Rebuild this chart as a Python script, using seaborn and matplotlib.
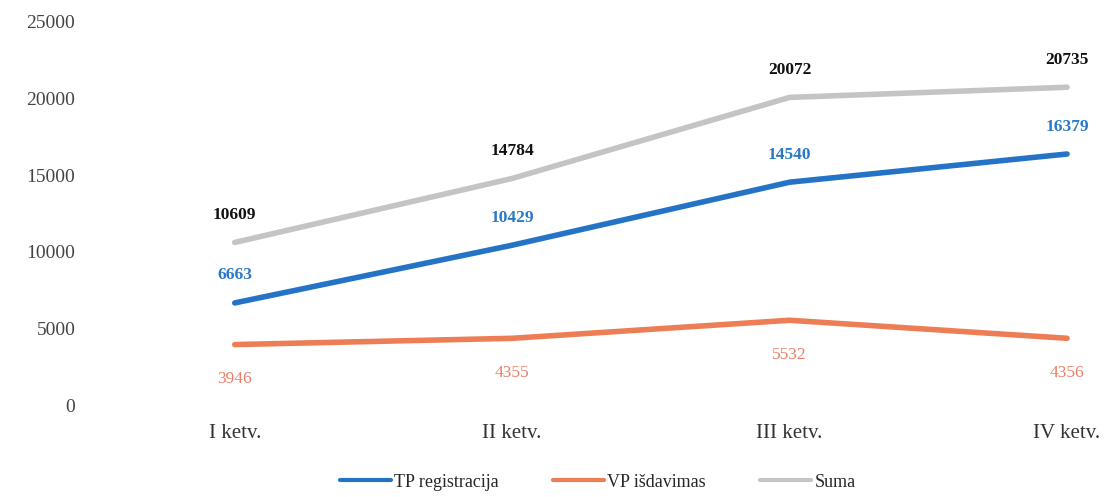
import pandas as pd
import matplotlib.pyplot as plt
import seaborn as sns

# Duomenys
ketvirciai = ["I ketv.", "II ketv.", "III ketv.", "IV ketv."]
tp_registracija = [6663, 10429, 14540, 16379]
vp_isdavimas = [3946, 4355, 5532, 4356]
suma = [10609, 14784, 20072, 20735]

serijos = ["TP registracija", "VP išdavimas", "Suma"]
spalvos = {"TP registracija": "#2473C6", "VP išdavimas": "#ED7D55", "Suma": "#C4C4C4"}
etiketes_spalvos = {"TP registracija": "#2A78C8", "VP išdavimas": "#E8806A", "Suma": "#111111"}

df = pd.DataFrame({
    "x": list(range(len(ketvirciai))) * 3,
    "reiksme": tp_registracija + vp_isdavimas + suma,
    "serija": [s for s in serijos for _ in ketvirciai],
})

sns.set_style("white")
plt.rcParams["font.family"] = ["Liberation Serif", "DejaVu Serif"]

fig = plt.figure(figsize=(11.07, 4.97), dpi=100)
ax = fig.add_axes([0.09, 0.185, 0.91, 0.771])

sns.lineplot(data=df, x="x", y="reiksme", hue="serija", hue_order=serijos,
             palette=spalvos, linewidth=4, ax=ax, legend=True)

# Reikšmių etiketės
for serija, vals in zip(serijos, [tp_registracija, vp_isdavimas, suma]):
    for i, v in enumerate(vals):
        if serija == "VP išdavimas":
            ax.annotate(str(v), (i, v), xytext=(0, -19), textcoords="offset points",
                        ha="center", va="top", fontsize=12.5, color=etiketes_spalvos[serija])
        else:
            ax.annotate(str(v), (i, v), xytext=(0, 14), textcoords="offset points",
                        ha="center", va="bottom", fontsize=12.5, fontweight="bold",
                        color=etiketes_spalvos[serija])

ax.set_xlim(-0.487, 3.144)
ax.set_ylim(0, 25000)
ax.set_yticks(range(0, 25001, 5000))
ax.set_xticks(range(len(ketvirciai)))
ax.set_xticklabels(ketvirciai, fontsize=15, color="#333333")
ax.tick_params(axis="y", labelsize=14, labelcolor="#444444", pad=14)
ax.tick_params(axis="x", pad=10)
ax.set_xlabel("")
ax.set_ylabel("")
ax.axhline(0, color="#EEEEEE", linewidth=1, zorder=0)
sns.despine(ax=ax, left=True, bottom=True)

handles, labels = ax.get_legend_handles_labels()
for h in handles:
    h.set_linewidth(3)
ax.get_legend().remove()
fig.legend(handles, labels, loc="center", bbox_to_anchor=(0.54, 0.03), ncol=3, frameon=False,
           fontsize=13, handlelength=2.8, handletextpad=0.2, columnspacing=3.0)

plt.savefig("out.png", dpi=100)
